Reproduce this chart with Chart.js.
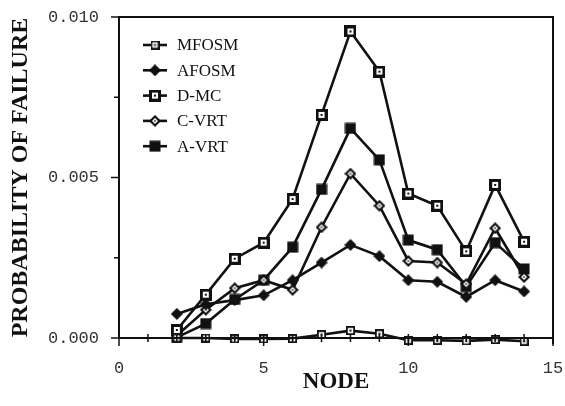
<!DOCTYPE html>
<html>
<head>
<meta charset="utf-8">
<script src="https://cdn.jsdelivr.net/npm/chart.js@4/dist/chart.umd.min.js"></script>
<style>
  html, body { margin: 0; padding: 0; background: #fff; }
  #wrap { width: 565px; height: 406px; }
</style>
</head>
<body>
<div id="wrap"><canvas id="pfChart" width="565" height="406"></canvas></div>
<script>
// node numbers and failure probabilities
const nodes = [2, 3, 4, 5, 6, 7, 8, 9, 10, 11, 12, 13, 14];
const mfosm = [0.0000, 0.0000, -0.00003, -0.00003, -0.00002, 0.00010, 0.00023, 0.00013, -0.00007, -0.00007, -0.00009, -0.00005, -0.00010];
const afosm = [0.00075, 0.00105, 0.00118, 0.00133, 0.00180, 0.00235, 0.00290, 0.00255, 0.00180, 0.00175, 0.00128, 0.00180, 0.00145];
const dmc   = [0.00025, 0.00135, 0.00247, 0.00297, 0.00433, 0.00695, 0.00955, 0.00830, 0.00450, 0.00412, 0.00270, 0.00477, 0.00300];
const cvrt  = [0.00008, 0.00088, 0.00155, 0.00180, 0.00150, 0.00345, 0.00512, 0.00412, 0.00240, 0.00235, 0.00168, 0.00342, 0.00190];
const avrt  = [0.00002, 0.00045, 0.00120, 0.00180, 0.00283, 0.00463, 0.00653, 0.00555, 0.00305, 0.00275, 0.00160, 0.00297, 0.00215];
const seriesNames = ['MFOSM', 'AFOSM', 'D-MC', 'C-VRT', 'A-VRT'];
const xTicks = [0, 5, 10, 15];
const yTicks = [0, 0.005, 0.010];

const ink = '#111';

// little canvases used as point styles
function marker(kind) {
  const s = kind === 'mf' ? 9 : 12;
  const c = document.createElement('canvas');
  c.width = s; c.height = s;
  const g = c.getContext('2d');
  const m = s / 2;
  g.fillStyle = ink;
  if (kind === 'mf' || kind === 'dmc') {
    g.fillRect(0, 0, s, s);
    const b = kind === 'mf' ? 1.8 : 3;
    g.fillStyle = '#fff';
    g.fillRect(b, b, s - 2 * b, s - 2 * b);
    g.fillStyle = ink;
    g.fillRect(m - 1, m - 1, 2, 2);
  } else if (kind === 'sq') {
    g.fillRect(0.5, 0.5, s - 1, s - 1);
  } else {
    g.beginPath();
    g.moveTo(m, 0); g.lineTo(s, m); g.lineTo(m, s); g.lineTo(0, m);
    g.closePath();
    g.fill();
    if (kind === 'dOpen') {
      g.fillStyle = '#fff';
      g.beginPath();
      g.moveTo(m, 3); g.lineTo(s - 3, m); g.lineTo(m, s - 3); g.lineTo(3, m);
      g.closePath();
      g.fill();
      g.fillStyle = ink;
      g.fillRect(m - 0.75, m - 0.75, 1.5, 1.5);
    }
  }
  return c;
}

const markers = [marker('mf'), marker('dFill'), marker('dmc'), marker('dOpen'), marker('sq')];
const values = [mfosm, afosm, dmc, cvrt, avrt];

const datasets = values.map((arr, i) => ({
  label: seriesNames[i],
  data: nodes.map((n, k) => ({ x: n, y: arr[k] })),
  borderColor: ink,
  borderWidth: 2.6,
  pointStyle: markers[i],
  pointRadius: 6,
  tension: 0,
  fill: false
}));

// frame, crossing ticks and the inset legend
const framePlugin = {
  id: 'frame',
  afterDatasetsDraw(chart) {
    const { ctx, chartArea: a, scales } = chart;
    const xs = scales.x, ys = scales.y;
    ctx.save();
    ctx.strokeStyle = ink;
    ctx.lineWidth = 2;
    ctx.beginPath();
    ctx.moveTo(a.left, a.bottom); ctx.lineTo(a.left, a.top); ctx.lineTo(a.right, a.top);
    ctx.lineTo(a.right, a.bottom + 6);
    ctx.moveTo(a.left, a.bottom); ctx.lineTo(a.right, a.bottom);
    ctx.stroke();
    ctx.lineWidth = 1.5;
    ctx.beginPath();
    for (let v = 0; v <= 15; v++) {
      const px = xs.getPixelForValue(v);
      const major = v % 5 === 0;
      ctx.moveTo(px, a.bottom - 4);
      ctx.lineTo(px, a.bottom + (major ? 8 : 4));
    }
    for (let v = 0; v <= 4; v++) {
      const py = ys.getPixelForValue(v * 0.0025);
      ctx.moveTo(a.left - (v % 2 === 0 ? 8 : 5), py);
      ctx.lineTo(a.left, py);
    }
    ctx.stroke();

    // legend
    const lx = a.left + 24, tx = a.left + 58;
    ctx.font = '17px "Liberation Serif", serif';
    ctx.textBaseline = 'middle';
    ctx.fillStyle = ink;
    seriesNames.forEach((name, i) => {
      const ly = a.top + 28 + i * 25.3;
      ctx.lineWidth = 2.6;
      ctx.beginPath();
      ctx.moveTo(lx, ly); ctx.lineTo(lx + 24, ly);
      ctx.stroke();
      const m = markers[i];
      ctx.drawImage(m, lx + 12 - m.width / 2, ly - m.height / 2);
      ctx.fillText(name, tx, ly + 1);
    });
    ctx.restore();
  }
};

new Chart(document.getElementById('pfChart').getContext('2d'), {
  type: 'line',
  data: { datasets },
  options: {
    responsive: false,
    animation: false,
    clip: false,
    layout: { padding: { top: 17, right: 12, left: 0, bottom: 0 } },
    plugins: {
      legend: { display: false },
      tooltip: { enabled: false }
    },
    scales: {
      x: {
        type: 'linear',
        min: 0,
        max: 15,
        afterBuildTicks: s => { s.ticks = xTicks.map(v => ({ value: v })); },
        afterFit: s => { s.height = 68; s.paddingLeft = 0; s.paddingRight = 0; },
        grid: { display: false },
        border: { display: false },
        ticks: {
          padding: 12,
          color: '#333',
          font: { family: '"Liberation Mono", monospace', size: 17 }
        },
        title: {
          display: true,
          text: 'NODE',
          color: ink,
          padding: { top: 0, bottom: 10 },
          font: { family: '"Liberation Serif", serif', size: 23, weight: 'bold' }
        }
      },
      y: {
        type: 'linear',
        min: 0,
        max: 0.010,
        afterBuildTicks: s => { s.ticks = yTicks.map(v => ({ value: v })); },
        afterFit: s => { s.width = 119; s.paddingTop = 0; s.paddingBottom = 0; },
        grid: { display: false },
        border: { display: false },
        ticks: {
          padding: 12,
          color: '#333',
          font: { family: '"Liberation Mono", monospace', size: 17 },
          callback: v => v.toFixed(3)
        },
        title: {
          display: true,
          text: 'PROBABILITY OF FAILURE',
          color: ink,
          padding: { top: 6, bottom: 0 },
          font: { family: '"Liberation Serif", serif', size: 24, weight: 'bold' }
        }
      }
    }
  },
  plugins: [framePlugin]
});
</script>
</body>
</html>
